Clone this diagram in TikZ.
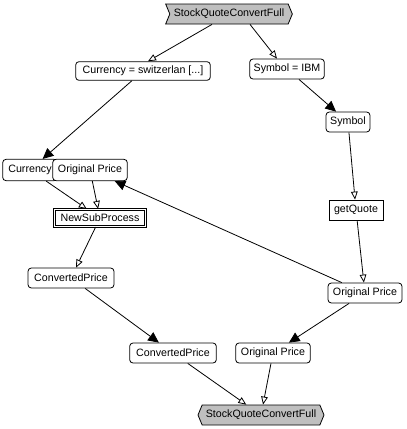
\documentclass[tikz,border=0pt]{standalone}
\usepackage{fontspec}
\setmainfont{Liberation Sans}
\usepackage{tikz}
\usetikzlibrary{arrows.meta,shapes.symbols,calc}
\colorlet{ggg}{black!25}
\tikzstyle{lbl}=[font=\fontsize{8}{9}\selectfont]
\tikzstyle{box}=[lbl,draw,fill=white,rounded corners=2.5pt,minimum height=15pt,inner sep=1.5pt]
\tikzstyle{task}=[box,sharp corners]
\tikzstyle{sub}=[task,double,double distance=1pt]
\tikzstyle{flag}=[lbl,draw,fill=ggg,shape=signal,signal pointer angle=135,minimum height=15pt,inner sep=1pt]
\tikzstyle{open}=[-{Triangle[open,length=6pt,width=5pt]}]
\tikzstyle{full}=[-{Triangle[length=8pt,width=7.5pt]}]

\begin{document}
\begin{tikzpicture}[x=0.75pt,y=-0.75pt,line width=0.6pt]
	\useasboundingbox (0,0) rectangle (407,429);
	\node[flag,signal from=west and east,minimum width=95pt] (top) at (229,14) {StockQuoteConvertFull};
	\node[box,minimum width=101pt,minimum height=14pt] (switz) at (143,71) {Currency = switzerlan [...]};
	\node[box,minimum width=56pt] (ibm) at (287,69) {Symbol = IBM};
	\node[box,minimum width=33pt] (sym) at (348,122) {Symbol};
	\node[task,minimum width=40.5pt] (getq) at (356,210) {getQuote};
	\node[box,minimum width=41pt,minimum height=16pt] (cur) at (30,170) {Currency};
	\node[box,minimum width=56pt,minimum height=16pt] (origl) at (90,170) {Original Price};
	\node[sub,minimum width=68pt,minimum height=13pt] (nsp) at (100,218) {NewSubProcess};
	\node[box,minimum width=64.5pt] (convl) at (71,278) {ConvertedPrice};
	\node[box,minimum width=55.5pt] (origr) at (365,293) {Original Price};
	\node[box,minimum width=65pt] (convb) at (173,353) {ConvertedPrice};
	\node[box,minimum width=56pt] (origb) at (273,353) {Original Price};
	\node[flag,signal to=west and east,minimum width=94.5pt] (bot) at (261,415) {StockQuoteConvertFull};
	%	\node[draw] (aux) at (200,200) {};

	\draw[open] ($(top.south)+(-17,0)$) -- ($(switz.north)+(5,0)$);
	\draw[open] ($(top.south)+(21,0)$) -- ($(ibm.north)+(-10,0)$);
	\draw[full] (switz) -- (cur);
	\draw[full] (ibm) -- (sym);
	\draw[open] (sym) -- (getq);
	\draw[open] (getq) -- (origr);
	\draw[full] (origr) -- (origl);
	\draw[full] (origr) -- (origb);
	\draw[open] (cur) -- (nsp);
	\draw[open] (origl) -- (nsp);
	\draw[open] (nsp) -- (convl);
	\draw[full] (convl) -- (convb);
	\draw[open] (convb) -- (bot);
	\draw[open] (origb) -- (bot);
\end{tikzpicture}
\end{document}
